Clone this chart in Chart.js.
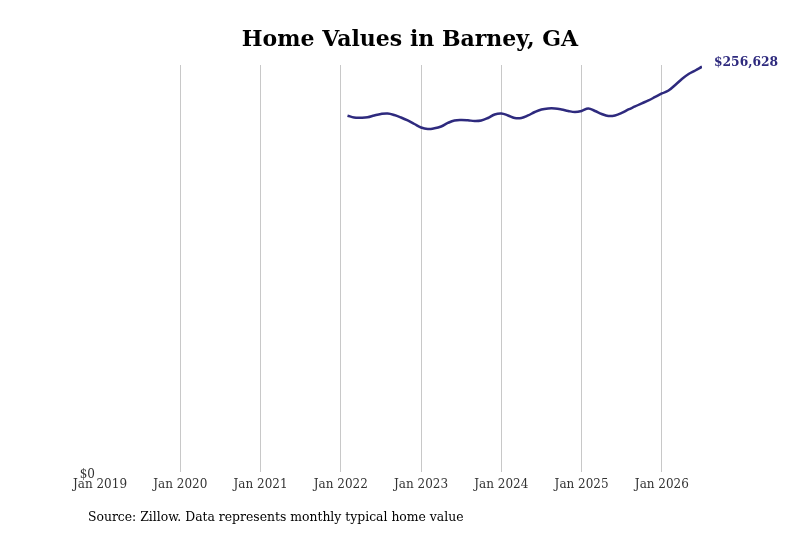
<!DOCTYPE html>
<html>
<head>
<meta charset="utf-8">
<script src="https://cdn.jsdelivr.net/npm/chart.js@4.4.0/dist/chart.umd.min.js"></script>
<style>
    body { margin: 0; background: #fff; }
    #wrap { position: relative; width: 800px; height: 533px; }
    #naslov {
        position: absolute; left: 20px; width: 780px; top: 24px;
        text-align: center; font: bold 22px "DejaVu Serif", serif; color: #000;
        line-height: 28px;
    }
    #izvor {
        position: absolute; left: 88px; top: 508px;
        font: 12.4px "DejaVu Serif", serif; color: #000; line-height: 18px;
    }
</style>
</head>
<body>
<div id="wrap">
    <canvas id="graf" width="800" height="533"></canvas>
    <div id="naslov">Home Values in Barney, GA</div>
    <div id="izvor">Source: Zillow. Data represents monthly typical home value</div>
</div>
<script>
// first month of the series: Feb 2022 (months counted from Jan 2019)
const pocetniMjesec = 37;
const vrijednosti = [
    225600, 224470, 224340, 224600, 225740, 226690, 227000, 226050, 224470, 222570,
    220350, 218140, 217190, 217630, 218770, 220990, 222570, 222890, 222700, 222250,
    222570, 224150, 226370, 227000, 225740, 224150, 224150, 225740, 227950, 229540,
    230170, 230170, 229540, 228590, 227950, 228590, 230170, 228590, 226690, 225420,
    225740, 227320, 229540, 231430, 233460, 235240, 237450, 239670, 241570, 245050,
    248850, 252010, 254230, 256628
];
const godinePocetak = 2019;
const xMax = 90;
const yMax = 257700;
const bojaLinije = '#2e2a7e';

const tocke = vrijednosti.map(function(v, i) {
    return { x: pocetniMjesec + i, y: v };
});

const oznakaKraja = {
    id: 'oznakaKraja',
    afterDatasetsDraw(chart) {
        const meta = chart.getDatasetMeta(0);
        const zadnja = meta.data[meta.data.length - 1];
        const ctx = chart.ctx;
        ctx.save();
        ctx.font = 'bold 12.3px "DejaVu Serif", serif';
        ctx.fillStyle = bojaLinije;
        ctx.textAlign = 'left';
        ctx.textBaseline = 'middle';
        ctx.fillText('$' + vrijednosti[vrijednosti.length - 1].toLocaleString('en-US'), zadnja.x + 12, zadnja.y - 4);
        ctx.restore();
    }
};

const ctx = document.getElementById('graf').getContext('2d');
new Chart(ctx, {
    type: 'line',
    data: {
        datasets: [{
            data: tocke,
            borderColor: bojaLinije,
            borderWidth: 2.5,
            pointRadius: 0,
            tension: 0.4,
            fill: false
        }]
    },
    options: {
        responsive: false,
        animation: false,
        layout: { padding: { left: 0, right: 98, top: 65, bottom: 41 } },
        plugins: {
            legend: { display: false },
            tooltip: { enabled: false },
            title: { display: false }
        },
        scales: {
            x: {
                type: 'linear',
                min: 0,
                max: xMax,
                border: { display: false },
                grid: {
                    drawTicks: false,
                    color: function(c) {
                        if (!c.tick || c.tick.value === 0 || c.tick.value % 12 !== 0) return 'rgba(0,0,0,0)';
                        return '#c8c8c8';
                    }
                },
                ticks: {
                    stepSize: 12,
                    padding: 6,
                    color: '#333',
                    font: { family: '"DejaVu Serif", serif', size: 12 },
                    callback: function(v) { return v % 12 === 0 ? 'Jan ' + (godinePocetak + v / 12) : ''; }
                },
                afterFit: function(s) { s.height = 20; }
            },
            y: {
                min: 0,
                max: yMax,
                border: { display: false },
                grid: { display: false, drawTicks: false },
                ticks: {
                    stepSize: yMax,
                    padding: 5,
                    labelOffset: 3,
                    color: '#333',
                    font: { family: '"DejaVu Serif", serif', size: 12 },
                    callback: function(v) { return v === 0 ? '$0' : ''; }
                },
                afterFit: function(s) { s.width = 100; }
            }
        }
    },
    plugins: [oznakaKraja]
});
</script>
</body>
</html>
